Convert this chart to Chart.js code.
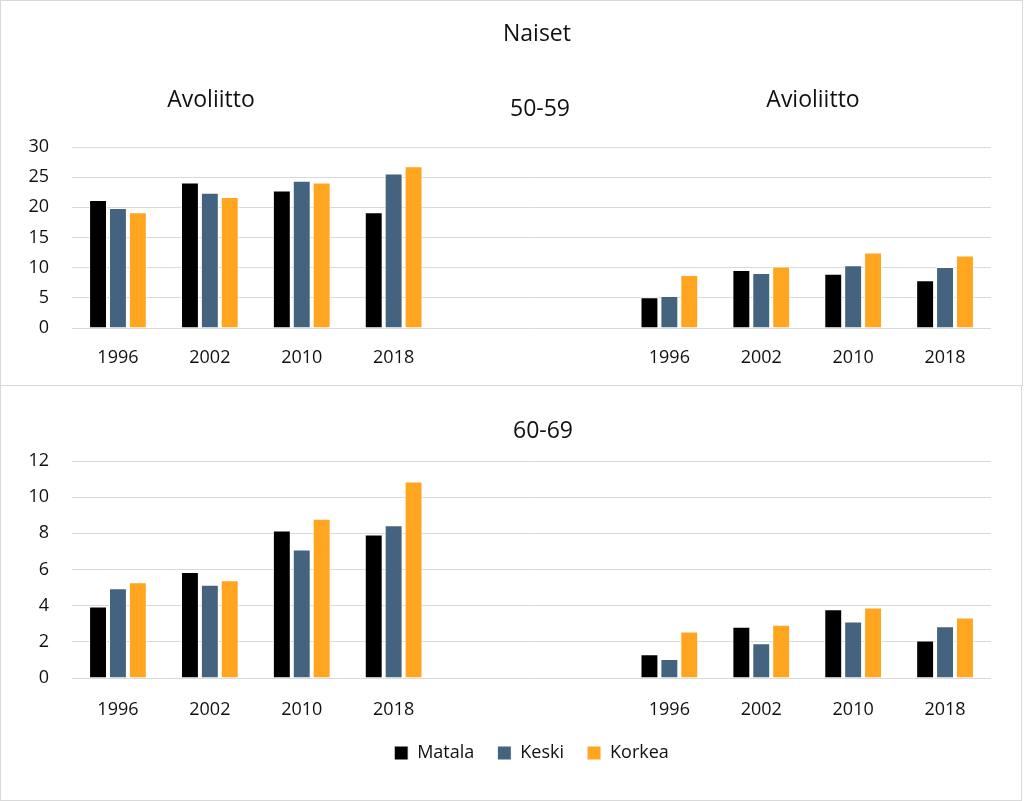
<!DOCTYPE html>
<html><head><meta charset="utf-8">
<script src="https://cdn.jsdelivr.net/npm/chart.js@4"></script>
<style>
html,body{margin:0;padding:0;background:#fff;width:1024px;height:801px;overflow:hidden;font-family:'Open Sans',sans-serif;}
.box{position:absolute;border:1px solid #d9d9d9;box-sizing:border-box;}
.t{position:absolute;transform:translate(-50%,-50%);font-size:23px;line-height:1;color:#111;white-space:nowrap;}
.cv{position:absolute;left:0;}
canvas{display:block;}
</style></head>
<body>
<div class="box" style="left:0;top:0;width:1023px;height:386px"></div>
<div class="box" style="left:0;top:385px;width:1022px;height:416px"></div>
<div class="cv" style="top:0;"><canvas id="c1" width="1024" height="386"></canvas></div>
<div class="cv" style="top:385px;"><canvas id="c2" width="1024" height="416"></canvas></div>
<div class="t" style="left:537px;top:32px">Naiset</div>
<div class="t" style="left:211px;top:98px">Avoliitto</div>
<div class="t" style="left:540px;top:107px">50-59</div>
<div class="t" style="left:813px;top:98px">Avioliitto</div>
<div class="t" style="left:543px;top:429px">60-69</div>
<script>
// categories
const years = ['1996', '2002', '2010', '2018'];
const gap = ['', ''];
const seriesNames = ['Matala', 'Keski', 'Korkea'];
const seriesColors = ['#000000', '#43637F', '#FFA520'];

// 50-59, Avoliitto
const a50Matala = [21.2, 24.1, 22.8, 19.2];
const a50Keski  = [19.9, 22.4, 24.4, 25.6];
const a50Korkea = [19.2, 21.7, 24.1, 26.8];
// 50-59, Avioliitto
const v50Matala = [5.1, 9.6, 9.0, 7.9];
const v50Keski  = [5.3, 9.1, 10.4, 10.1];
const v50Korkea = [8.8, 10.2, 12.5, 12.0];
// 60-69, Avoliitto
const a60Matala = [3.95, 5.86, 8.15, 7.93];
const a60Keski  = [4.97, 5.16, 7.1, 8.45];
const a60Korkea = [5.3, 5.41, 8.8, 10.87];
// 60-69, Avioliitto
const v60Matala = [1.31, 2.83, 3.8, 2.07];
const v60Keski  = [1.05, 1.92, 3.12, 2.86];
const v60Korkea = [2.57, 2.94, 3.9, 3.34];

// y tick settings
const yMax50 = 30, yStep50 = 5;
const yMax60 = 12, yStep60 = 2;

const labels = [...years, ...gap, ...years];
const gapVals = [null, null];

function makeDatasets(groups) {
  return groups.map((g, i) => ({
    label: seriesNames[i],
    data: [...g[0], ...gapVals, ...g[1]],
    backgroundColor: seriesColors[i],
    borderColor: '#ffffff',
    borderWidth: 1,
    categoryPercentage: 0.65,
    barPercentage: 0.9
  }));
}

const tickFont = {family: "'Open Sans', sans-serif", size: 18};

function makeChart(id, datasets, yMax, yStep, opts) {
  return new Chart(document.getElementById(id), {
    type: 'bar',
    data: {labels: labels, datasets: datasets},
    options: {
      responsive: false,
      animation: false,
      events: [],
      layout: {padding: {top: opts.padTop, left: 0, right: 33, bottom: opts.padBottom}},
      plugins: {
        tooltip: {enabled: false},
        title: {display: false},
        legend: opts.legend ? {
          display: true,
          position: 'bottom',
          fullSize: false,
          labels: {
            boxWidth: 14, boxHeight: 14, padding: 23,
            color: '#111',
            font: {family: "'Open Sans', sans-serif", size: 18}
          }
        } : {display: false}
      },
      scales: {
        x: {
          grid: {display: false, drawTicks: false},
          border: {display: false},
          ticks: {color: '#111', font: tickFont, padding: opts.xPad, autoSkip: false, maxRotation: 0},
          afterFit: s => { s.height = opts.xH; }
        },
        y: {
          min: 0, max: yMax,
          grid: {color: '#d9d9d9', lineWidth: 1, drawTicks: false},
          border: {display: false},
          ticks: {stepSize: yStep, color: '#111', font: tickFont, padding: 23},
          afterFit: s => { s.width = 72; }
        }
      }
    }
  });
}

makeChart('c1', makeDatasets([[a50Matala, v50Matala], [a50Keski, v50Keski], [a50Korkea, v50Korkea]]),
  yMax50, yStep50, {padTop: 147, padBottom: 0, xH: 58, xPad: 19, legend: false});
makeChart('c2', makeDatasets([[a60Matala, v60Matala], [a60Keski, v60Keski], [a60Korkea, v60Korkea]]),
  yMax60, yStep60, {padTop: 76, padBottom: 29, xH: 43, xPad: 21, legend: true});
</script>
</body></html>
